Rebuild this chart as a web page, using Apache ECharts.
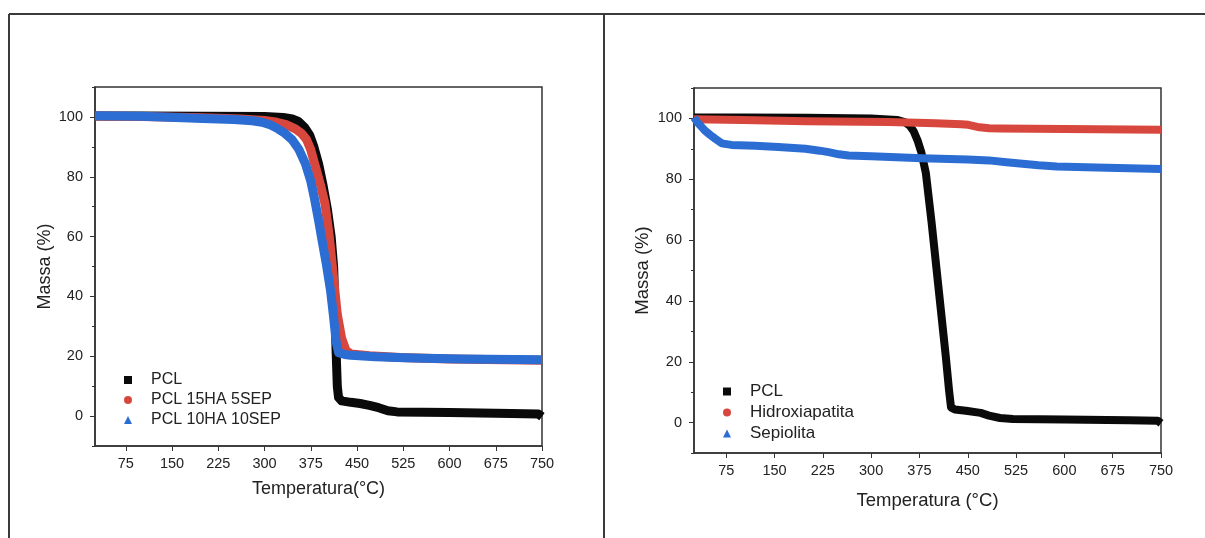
<!DOCTYPE html>
<html>
<head>
<meta charset="utf-8">
<title>TGA PCL</title>
<script src="https://cdn.jsdelivr.net/npm/echarts@6.0.0/dist/echarts.min.js"></script>
<style>
  html, body { margin: 0; padding: 0; background: #fff; }
  #chart { width: 1205px; height: 538px; }
</style>
</head>
<body>
<div id="chart"></div>
<script>
// tick labels
const tempTicks = [75, 150, 225, 300, 375, 450, 525, 600, 675, 750]
const massTicks = [0, 20, 40, 60, 80, 100]
const massMinorTicks = [-10, 10, 30, 50, 70, 90, 110]

// left panel: PCL + composites
const pclLeftT = [25, 100, 200, 300, 330, 345, 355, 365, 373, 380, 388, 395, 402, 408, 412, 414, 416, 418, 420, 425, 440, 455, 470, 485, 500, 515, 600, 700, 744, 750]
const pclLeftM = [100.3, 100.3, 100.2, 100.1, 99.8, 99.3, 98.5, 96.5, 94, 90, 84, 77, 69, 60, 50, 38, 22, 10, 6.2, 5.1, 4.6, 4.2, 3.6, 2.8, 1.8, 1.4, 1.2, 0.9, 0.7, -0.2]
const ha15T = [25, 100, 200, 260, 300, 320, 335, 350, 360, 368, 375, 383, 391, 398, 405, 413, 418, 425, 432, 440, 470, 520, 600, 750]
const ha15M = [100.3, 100.1, 99.7, 99.3, 98.8, 98.2, 97.4, 96, 94.5, 92.5, 89, 83, 77, 71, 60, 44, 34, 26, 22, 20.8, 20.2, 19.6, 19.1, 18.7]
const ha10T = [25, 100, 200, 250, 280, 296, 310, 322, 333, 345, 356, 366, 375, 381, 388, 393, 400, 407, 412, 416, 420, 430, 440, 480, 540, 620, 750]
const ha10M = [100.4, 100.2, 99.5, 99.1, 98.7, 98.2, 97.3, 96, 94.5, 92.3, 89, 84.5, 78.5, 72.7, 65, 59, 51, 42, 33, 25, 21.2, 20.6, 20.3, 19.8, 19.4, 19.1, 18.8]

// right panel: PCL + raw fillers
const pclT = [25, 100, 200, 300, 340, 352, 360, 366, 372, 378, 385, 394, 405, 416, 421, 424, 430, 447, 470, 483, 500, 520, 600, 700, 745, 750]
const pclM = [100.3, 100.3, 100.2, 100, 99.5, 98.8, 97.6, 95.8, 92.8, 88.8, 82, 65.5, 43.5, 21.5, 10.5, 5, 4.3, 3.9, 3.2, 2.3, 1.5, 1.2, 1.0, 0.8, 0.6, -0.2]
const hidroT = [25, 100, 200, 327, 400, 440, 451, 465, 483, 500, 600, 750]
const hidroM = [99.7, 99.5, 99.1, 98.8, 98.4, 98.1, 97.9, 97.2, 96.8, 96.7, 96.5, 96.3]
const sepT = [25, 30, 42, 50, 58, 68, 83, 120, 156, 198, 220, 234, 250, 265, 300, 379, 450, 483, 510, 535, 560, 588, 650, 750]
const sepM = [100.3, 98.8, 96, 94.6, 93.3, 91.8, 91.3, 91, 90.6, 90, 89.4, 88.9, 88.2, 87.8, 87.6, 86.9, 86.5, 86.2, 85.6, 85.1, 84.6, 84.2, 83.9, 83.4]

const pairs = (t, m) => t.map((v, i) => [v, m[i]])

const font = 'Liberation Sans, Arial, Helvetica, sans-serif'
const ink = '#222'
const frame = '#333'
const colors = { pcl: '#0a0a0a', ha: '#d8473d', sep: '#2b6dd3' }

function xAxisFor(gridIndex, name, nameGap, nameSize) {
  return {
    gridIndex: gridIndex,
    type: 'value',
    min: 25,
    max: 750,
    name: name,
    nameLocation: 'middle',
    nameGap: nameGap,
    nameTextStyle: { fontSize: nameSize, color: ink, fontFamily: font },
    axisLine: { onZero: false, lineStyle: { color: frame, width: 1.5 } },
    axisTick: { customValues: tempTicks, length: 5, lineStyle: { color: frame } },
    axisLabel: { customValues: tempTicks, fontSize: 14.5, color: ink, fontFamily: font, margin: 10 },
    splitLine: { show: false }
  }
}

function yAxisFor(gridIndex, nameGap, nameSize) {
  return {
    gridIndex: gridIndex,
    type: 'value',
    min: -10,
    max: 110,
    name: 'Massa (%)',
    nameLocation: 'middle',
    nameGap: nameGap,
    nameTextStyle: { fontSize: nameSize, color: ink, fontFamily: font },
    axisLine: { show: true, onZero: false, lineStyle: { color: frame, width: 1.5 } },
    axisTick: { customValues: massTicks, length: 5, lineStyle: { color: frame } },
    axisLabel: { customValues: massTicks, fontSize: 14.5, color: ink, fontFamily: font, margin: 12 },
    splitLine: { show: false }
  }
}

// second y axis per grid, only for the short ticks in between
function yMinorFor(gridIndex) {
  return {
    gridIndex: gridIndex,
    type: 'value',
    min: -10,
    max: 110,
    position: 'left',
    axisLine: { show: false, onZero: false },
    axisTick: { show: true, customValues: massMinorTicks, length: 3, lineStyle: { color: frame } },
    axisLabel: { show: false },
    splitLine: { show: false }
  }
}

function lineSeries(name, data, color, xi, yi, width) {
  return {
    name: name,
    type: 'line',
    xAxisIndex: xi,
    yAxisIndex: yi,
    data: data,
    showSymbol: false,
    color: color,
    lineStyle: { color: color, width: width, cap: 'butt', join: 'round' },
    smooth: false
  }
}

function legendFor(names, left, top, size, lineHeight) {
  const icons = ['rect', 'circle', 'triangle']
  return {
    orient: 'vertical',
    left: left,
    top: top,
    padding: 0,
    itemGap: 0,
    itemWidth: 8,
    itemHeight: 8,
    data: names.map((n, i) => ({ name: n, icon: icons[i] })),
    textStyle: { fontSize: size, color: ink, fontFamily: font, lineHeight: lineHeight, padding: [0, 0, 0, 14] }
  }
}

const chart = echarts.init(document.getElementById('chart'), null, { renderer: 'canvas' })

chart.setOption({
  animation: false,
  backgroundColor: '#fff',
  textStyle: { fontFamily: font },
  graphic: [
    { type: 'line', shape: { x1: 9, y1: 14, x2: 1205, y2: 14 }, style: { stroke: '#3a3a3a', lineWidth: 2 } },
    { type: 'line', shape: { x1: 9, y1: 14, x2: 9, y2: 538 }, style: { stroke: '#3a3a3a', lineWidth: 2 } },
    { type: 'line', shape: { x1: 604, y1: 14, x2: 604, y2: 538 }, style: { stroke: '#3a3a3a', lineWidth: 2 } }
  ],
  grid: [
    { left: 95, top: 87, width: 447, height: 359, show: true, borderColor: frame, borderWidth: 1.5, backgroundColor: 'transparent' },
    { left: 694, top: 88, width: 467, height: 365, show: true, borderColor: frame, borderWidth: 1.5, backgroundColor: 'transparent' }
  ],
  xAxis: [
    xAxisFor(0, 'Temperatura(°C)', 34, 18),
    xAxisFor(1, 'Temperatura (°C)', 38, 18.5)
  ],
  yAxis: [
    yAxisFor(0, 41, 18),
    yMinorFor(0),
    yAxisFor(1, 42, 18.5),
    yMinorFor(1)
  ],
  legend: [
    legendFor(['PCL', 'PCL 15HA 5SEP', 'PCL 10HA 10SEP'], 124, 370, 16, 20),
    legendFor(['PCL', 'Hidroxiapatita', 'Sepiolita'], 723, 381, 17, 21)
  ],
  series: [
    lineSeries('PCL', pairs(pclLeftT, pclLeftM), colors.pcl, 0, 0, 9),
    lineSeries('PCL 15HA 5SEP', pairs(ha15T, ha15M), colors.ha, 0, 0, 9),
    lineSeries('PCL 10HA 10SEP', pairs(ha10T, ha10M), colors.sep, 0, 0, 9),
    lineSeries('PCL', pairs(pclT, pclM), colors.pcl, 1, 2, 8),
    lineSeries('Hidroxiapatita', pairs(hidroT, hidroM), colors.ha, 1, 2, 8),
    lineSeries('Sepiolita', pairs(sepT, sepM), colors.sep, 1, 2, 8)
  ]
})
</script>
</body>
</html>
